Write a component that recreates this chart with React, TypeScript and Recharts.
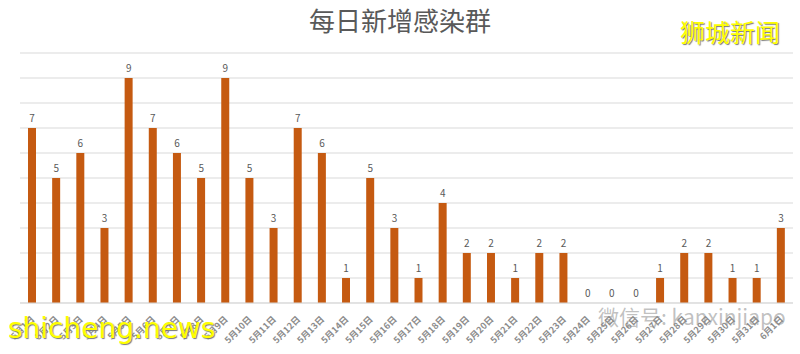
import React from 'react';
import { ComposedChart, Bar, Line, XAxis, YAxis, CartesianGrid, LabelList } from 'recharts';

const categories = ['5月1日','5月2日','5月3日','5月4日','5月5日','5月6日','5月7日','5月8日','5月9日','5月10日','5月11日','5月12日','5月13日','5月14日','5月15日','5月16日','5月17日','5月18日','5月19日','5月20日','5月21日','5月22日','5月23日','5月24日','5月25日','5月26日','5月27日','5月28日','5月29日','5月30日','5月31日','6月1日'];
const clusters = [7,5,6,3,9,7,6,5,9,5,3,7,6,1,5,3,1,4,2,2,1,2,2,0,0,0,1,2,2,1,1,3];
const yTicks = [0,1,2,3,4,5,6,7,8,9,10];

const data = categories.map((c, i) => ({ name: c, value: clusters[i] }));

const FONT = '"Noto Sans CJK SC", "Noto Sans", sans-serif';

const Tick = (props: any) => {
  const { x, y, payload } = props;
  return (
    <g transform={`translate(${x + 3},${y + 9})`}>
      <text textAnchor="end" transform="rotate(-45)" fontSize={9} fontWeight="bold" fill="#8c8c8c" fontFamily={FONT}>
        {payload.value}
      </text>
    </g>
  );
};

export default function App() {
  return (
    <div style={{ position: 'absolute', left: 0, top: 0, width: 800, height: 354, background: '#fff', fontFamily: FONT }}>
      <div style={{ position: 'absolute', left: 0, top: 3, width: 800, textAlign: 'center', fontSize: 26, lineHeight: '34px', color: '#595959' }}>
        每日新增感染群
      </div>
      <div style={{ position: 'absolute', left: 680, top: 14, fontSize: 25, lineHeight: '34px', color: '#ffff00', textShadow: '1px 1px 1px #777' }}>
        狮城新闻
      </div>
      <ComposedChart width={800} height={354} data={data} margin={{ top: 53, right: 7, left: 20, bottom: 0 }}>
        <CartesianGrid horizontal={true} vertical={false} stroke="#d9d9d9" />
        <YAxis hide domain={[0, 10]} ticks={yTicks} />
        <XAxis dataKey="name" interval={0} tick={<Tick />} tickLine={false} axisLine={{ stroke: '#d9d9d9' }} height={51} />
        <Bar dataKey="value" fill="#c55a11" barSize={8} isAnimationActive={false} />
        <Line dataKey="value" stroke="none" dot={false} activeDot={false} isAnimationActive={false}>
          <LabelList dataKey="value" position="top" offset={6} fontSize={10} fill="#595959" fontFamily={FONT} />
        </Line>
      </ComposedChart>
      <div style={{ position: 'absolute', left: 598, top: 305, fontSize: 21, lineHeight: '22px', color: 'rgba(140,140,140,0.55)', fontFamily: FONT }}>
        微信号: kanxinjiapo
      </div>
      <div style={{ position: 'absolute', left: 8, top: 312, fontSize: 28, color: '#ffff00', textShadow: '1px 1px 1px #777', fontFamily: '"DejaVu Sans", sans-serif' }}>
        shicheng.news
      </div>
    </div>
  );
}
